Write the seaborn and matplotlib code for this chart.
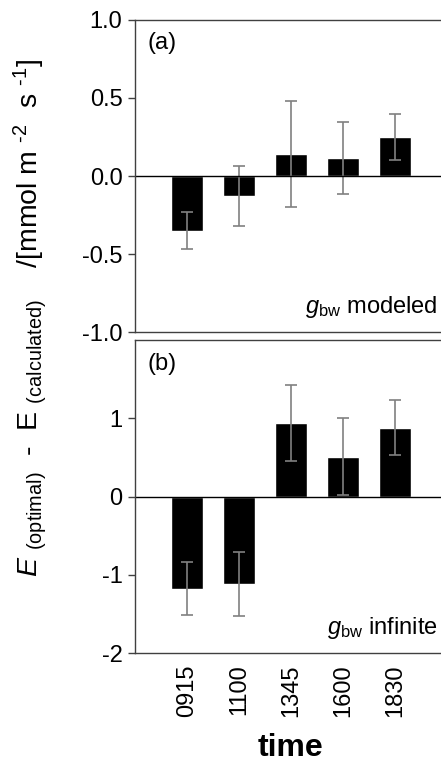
import numpy as np
import pandas as pd
import matplotlib
matplotlib.use("Agg")
import matplotlib.pyplot as plt
import seaborn as sns

# valeurs
times = ["0915", "1100", "1345", "1600", "1830"]
diff_modeled = [-0.35, -0.127, 0.143, 0.117, 0.25]
err_modeled = [0.12, 0.19, 0.34, 0.23, 0.15]
diff_infinite = [-1.18, -1.12, 0.94, 0.51, 0.88]
err_infinite = [0.34, 0.41, 0.49, 0.49, 0.35]

sns.set_theme(style="ticks")
plt.rcParams['font.family'] = ['Liberation Sans', 'DejaVu Sans']
plt.rcParams['mathtext.fontset'] = 'custom'
plt.rcParams['mathtext.rm'] = 'Liberation Sans'
plt.rcParams['mathtext.it'] = 'Liberation Sans:italic'
plt.rcParams['mathtext.bf'] = 'Liberation Sans:bold'
plt.rcParams['axes.unicode_minus'] = False
plt.rcParams['text.color'] = 'black'
plt.rcParams['axes.labelcolor'] = 'black'
plt.rcParams['xtick.labelcolor'] = 'black'
plt.rcParams['ytick.labelcolor'] = 'black'

fig = plt.figure(figsize=(4.41, 7.67), dpi=100)
ax1 = fig.add_axes([0.306, 0.567, 0.7075, 0.407])
ax2 = fig.add_axes([0.306, 0.1486, 0.7075, 0.408])

panels = [
    (ax1, diff_modeled, err_modeled, "(a)", r"$g_{\mathrm{bw}}$ modeled", (-1, 1)),
    (ax2, diff_infinite, err_infinite, "(b)", r"$g_{\mathrm{bw}}$ infinite", (-2, 2)),
]

for ax, vals, errs, tag, note, ylim in panels:
    df = pd.DataFrame({'time': times, 'diff': vals})
    sns.barplot(data=df, x='time', y='diff', color='black', width=0.62,
                errorbar=None, ax=ax, saturation=1)
    ax.errorbar(np.arange(len(times)), vals, yerr=errs, fmt='none',
                ecolor='#808080', elinewidth=1.2, capsize=4.5, capthick=1.2)
    ax.axhline(0, color='black', lw=1)
    ax.set_xlim(-1, 5)
    ax.set_ylim(*ylim)
    ax.set_xlabel('')
    ax.set_ylabel('')
    for s in ['left', 'top', 'bottom']:
        ax.spines[s].set_color('#404040')
        ax.spines[s].set_linewidth(1)
    ax.spines['right'].set_visible(False)
    ax.tick_params(axis='y', labelsize=17, length=5, width=1, color='#404040', pad=4)
    ax.tick_params(axis='x', length=0)
    ax.text(0.04, 0.96, tag, transform=ax.transAxes, fontsize=17, va='top', ha='left')
    ax.text(0.97, 0.04, note, transform=ax.transAxes, fontsize=17,
            va='bottom', ha='right')

ax1.set_yticks([-1.0, -0.5, 0.0, 0.5, 1.0])
ax1.set_yticklabels(["-1.0", "-0.5", "0.0", "0.5", "1.0"])
ax1.set_xticklabels([])
ax2.set_yticks([-2, -1, 0, 1])
ax2.set_yticklabels(["-2", "-1", "0", "1"])
ax2.set_xticks(range(len(times)))
ax2.set_xticklabels(times, rotation=90, fontsize=17)
ax2.tick_params(axis='x', pad=8)
ax2.set_xlabel('time', fontsize=23, fontweight='bold', labelpad=12)

fig.text(0.068, 0.585,
         r"$E$ $_{\mathrm{(optimal)}}$  -  E $_{\mathrm{(calculated)}}$    /[mmol m $^{\text{-2}}$  s $^{\text{-1}}$]",
         rotation=90, fontsize=20.5, ha='center', va='center')

fig.savefig("out.png", dpi=100)
